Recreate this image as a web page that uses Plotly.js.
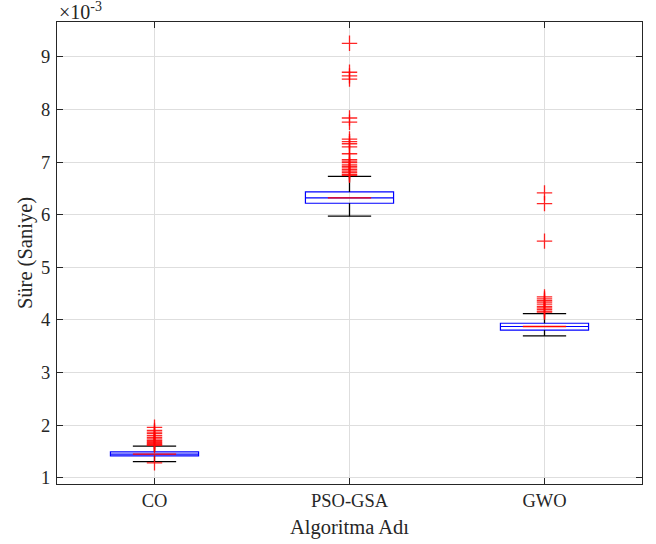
<!DOCTYPE html>
<html>
<head>
<meta charset="utf-8">
<script src="https://cdn.plot.ly/plotly-3.0.1.min.js"></script>
<style>
  html, body { margin: 0; padding: 0; background: #fff; }
  #chart { width: 656px; height: 544px; }
</style>
</head>
<body>
<div id="chart"></div>
<script>
// Run times per algorithm, in units of 1e-3 s
const algorithms = ['CO', 'PSO-GSA', 'GWO'];
const positions = [1, 2, 3];

const q1Vals      = [1.417, 6.219, 3.806];
const medianVals  = [1.449, 6.321, 3.876];
const q3Vals      = [1.493, 6.435, 3.938];
const lowerWhisk  = [1.309, 5.973, 3.698];
const upperWhisk  = [1.601, 6.731, 4.122];

const outliersCO  = [1.96, 1.90, 1.87, 1.84, 1.80, 1.77, 1.74, 1.71, 1.69, 1.67, 1.65, 1.63, 1.615, 1.284];
const outliersPSO = [9.26, 8.71, 8.64, 8.58, 7.84, 7.76, 7.44, 7.39, 7.35, 7.29, 7.16, 7.05, 7.02,
                     6.99, 6.95, 6.92, 6.89, 6.86, 6.83, 6.80, 6.77, 6.75];
const outliersGWO = [6.416, 6.213, 5.499, 4.44, 4.40, 4.37, 4.34, 4.30, 4.26, 4.23, 4.20, 4.17, 4.15];
const outlierSets = [outliersCO, outliersPSO, outliersGWO];

const tickVals = [1, 2, 3, 4, 5, 6, 7, 8, 9];

const FONT = 'Liberation Serif';
const TXT = '#262626';
const TICK_SIZE = 18.5;
const TITLE_SIZE = 20.5;
const BOX_HALF = 0.226;
const CAP_HALF = 0.111;

const traces = [];

// Boxes (blue); whiskers are drawn separately in black
traces.push({
  type: 'box', x: positions, q1: q1Vals, median: medianVals, q3: q3Vals,
  lowerfence: q1Vals, upperfence: q3Vals, width: BOX_HALF * 2, whiskerwidth: 0,
  line: { color: '#0000ff', width: 1.2 }, fillcolor: 'rgba(0,0,0,0)',
  boxpoints: false, hoverinfo: 'skip', showlegend: false
});

// Whiskers and caps
const wx = [], wy = [];
positions.forEach((p, i) => {
  wx.push(p, p, null, p - CAP_HALF, p + CAP_HALF, null);
  wy.push(q3Vals[i], upperWhisk[i], null, upperWhisk[i], upperWhisk[i], null);
  wx.push(p, p, null, p - CAP_HALF, p + CAP_HALF, null);
  wy.push(q1Vals[i], lowerWhisk[i], null, lowerWhisk[i], lowerWhisk[i], null);
});
traces.push({ type: 'scatter', mode: 'lines', x: wx, y: wy,
  line: { color: '#000000', width: 1.3 }, hoverinfo: 'skip', showlegend: false });

// Red median segments
const mx = [], my = [];
positions.forEach((p, i) => {
  mx.push(p - CAP_HALF, p + CAP_HALF, null);
  my.push(medianVals[i], medianVals[i], null);
});
traces.push({ type: 'scatter', mode: 'lines', x: mx, y: my,
  line: { color: '#ff0000', width: 1.3 }, hoverinfo: 'skip', showlegend: false });

// Outliers
const ox = [], oy = [];
outlierSets.forEach((set, i) => { set.forEach(v => { ox.push(positions[i]); oy.push(v); }); });
traces.push({ type: 'scatter', mode: 'markers', x: ox, y: oy,
  marker: { symbol: 'cross-thin-open', size: 11, color: 'rgba(255,0,0,0.85)',
            line: { color: 'rgba(255,0,0,0.85)', width: 1.3 } },
  hoverinfo: 'skip', showlegend: false });

const layout = {
  width: 656, height: 544,
  margin: { l: 57, r: 14, t: 22, b: 59.5 },
  paper_bgcolor: '#ffffff', plot_bgcolor: '#ffffff',
  font: { family: FONT, size: TICK_SIZE, color: TXT },
  showlegend: false,
  xaxis: {
    range: [0.5, 3.5], tickmode: 'array', tickvals: positions, ticktext: algorithms,
    showgrid: true, gridcolor: '#dedede', gridwidth: 1, zeroline: false,
    showline: true, linecolor: '#262626', linewidth: 1, mirror: 'ticks',
    ticks: 'inside', ticklen: 6, tickcolor: '#262626', tickwidth: 1,
    ticklabelstandoff: 1.5,
    tickfont: { family: FONT, size: TICK_SIZE, color: TXT },
    title: { text: 'Algoritma Adı', font: { family: FONT, size: TITLE_SIZE, color: TXT }, standoff: 8.5 }
  },
  yaxis: {
    range: [0.882, 9.665], tickmode: 'array', tickvals: tickVals,
    showgrid: true, gridcolor: '#dedede', gridwidth: 1, zeroline: false,
    showline: true, linecolor: '#262626', linewidth: 1, mirror: 'ticks',
    ticks: 'inside', ticklen: 6, tickcolor: '#262626', tickwidth: 1,
    ticklabelstandoff: 2,
    tickfont: { family: FONT, size: TICK_SIZE, color: TXT },
    title: { text: 'Süre (Saniye)', font: { family: FONT, size: TITLE_SIZE, color: TXT }, standoff: 2 }
  },
  annotations: [{
    xref: 'paper', yref: 'paper', x: 0, y: 1, xanchor: 'left', yanchor: 'bottom', yshift: -3,
    text: '×10<sup>-3</sup>', showarrow: false, font: { family: FONT, size: 20, color: TXT }
  }]
};

Plotly.newPlot('chart', traces, layout, { displayModeBar: false, staticPlot: true });
</script>
</body>
</html>
